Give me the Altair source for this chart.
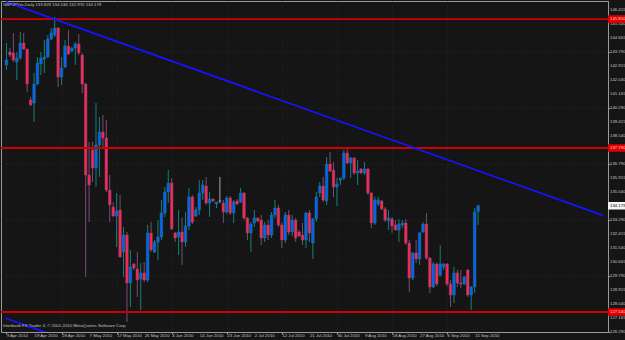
import altair as alt
import pandas as pd

# ---- data (GBPJPYm, Daily) ----
opens = [142.98, 143.79, 143.73, 143.165, 143.415, 144.35, 143.98, 140.79, 140.60, 141.79,
         143.04, 143.35, 143.48, 144.60, 144.85, 145.29, 142.23, 142.85, 144.165, 143.85,
         144.04, 144.29, 143.60, 141.79, 136.10, 137.665, 136.54, 137.98, 138.79, 138.415,
         135.165, 134.10, 133.54, 133.915, 131.29, 132.35, 129.35, 130.54, 130.23, 129.60,
         129.98, 129.54, 132.48, 131.29, 131.915, 132.23, 133.73, 135.04, 135.60, 132.48,
         132.23, 132.54, 131.915, 132.915, 134.73, 133.54, 133.915, 134.98, 135.415, 134.35,
         134.60, 134.29, 134.48, 134.35, 133.79, 134.665, 133.73, 134.48, 134.415, 134.98,
         133.415, 132.48, 133.10, 133.415, 133.29, 132.165, 132.98, 132.35, 133.60, 134.04,
         132.98, 132.04, 133.60, 132.54, 133.29, 132.54, 132.35, 132.04, 133.73, 131.85,
         133.35, 134.98, 135.415, 134.48, 136.79, 136.415, 135.35, 135.79, 135.915, 137.48,
         136.85, 137.165, 136.23, 136.48, 136.23, 136.48, 134.98, 133.10, 134.29, 134.48,
         133.98, 133.23, 133.35, 132.98, 132.665, 132.98, 133.10, 131.85, 129.665, 131.23,
         130.85, 132.54, 133.04, 130.915, 129.10, 130.54, 129.85, 130.35, 130.54, 129.29,
         128.60, 129.98, 129.35, 129.29, 130.165, 128.60, 129.10, 133.829]
highs = [144.35, 144.04, 144.98, 143.79, 145.04, 144.98, 143.98, 140.98, 142.48, 143.48,
         143.79, 144.54, 144.85, 145.29, 145.98, 145.35, 143.48, 144.54, 145.165, 144.10,
         144.415, 144.915, 143.73, 141.85, 138.165, 138.165, 140.60, 139.73, 139.85, 139.54,
         136.10, 134.415, 134.98, 134.85, 132.85, 132.54, 131.415, 130.60, 131.29, 130.60,
         130.665, 132.98, 133.165, 132.04, 133.29, 134.54, 135.35, 136.415, 135.915, 132.54,
         133.915, 133.415, 133.79, 135.29, 134.85, 134.10, 135.79, 135.79, 135.98, 135.04,
         134.665, 134.415, 135.98, 134.54, 134.79, 134.79, 134.54, 134.60, 135.29, 135.04,
         133.48, 133.165, 133.915, 133.45, 133.60, 133.165, 133.29, 133.79, 134.54, 134.23,
         133.165, 133.79, 133.915, 133.60, 133.415, 132.665, 133.10, 133.79, 133.915, 133.415,
         135.04, 135.665, 135.98, 137.23, 137.54, 136.915, 135.915, 135.915, 137.665, 137.79,
         137.23, 137.23, 137.04, 136.54, 136.915, 136.54, 135.00, 134.73, 134.73, 134.54,
         134.10, 133.915, 133.48, 133.29, 133.35, 133.29, 133.35, 132.04, 131.29, 132.04,
         132.54, 133.165, 133.73, 130.98, 130.665, 130.60, 131.73, 130.60, 130.60, 129.54,
         130.35, 130.165, 130.165, 129.79, 130.23, 129.165, 134.04, 134.244]
lows = [142.665, 143.48, 143.165, 142.04, 143.29, 143.915, 141.29, 140.415, 139.415, 141.73,
        142.35, 142.48, 143.415, 144.54, 144.73, 141.60, 141.73, 142.79, 143.60, 143.79,
        142.98, 143.60, 141.23, 129.73, 133.165, 135.665, 135.35, 135.98, 137.85, 135.04,
        133.165, 133.48, 131.60, 130.95, 129.73, 126.915, 127.85, 130.165, 128.48, 127.665,
        129.415, 129.415, 131.29, 131.23, 130.79, 132.04, 133.48, 134.35, 132.665, 131.915,
        131.10, 130.48, 131.60, 132.665, 133.04, 133.48, 133.60, 134.54, 134.23, 133.48,
        134.415, 134.04, 134.35, 133.10, 133.665, 133.60, 133.10, 134.23, 134.35, 133.29,
        132.04, 131.29, 132.85, 133.165, 131.73, 131.915, 132.04, 132.165, 133.415, 132.85,
        131.54, 131.85, 132.35, 132.29, 131.915, 132.23, 131.73, 131.54, 131.915, 130.85,
        133.165, 134.73, 134.415, 134.23, 136.29, 134.73, 134.165, 135.48, 135.79, 136.79,
        135.915, 136.10, 135.48, 136.165, 136.10, 134.85, 132.79, 132.98, 134.165, 133.915,
        133.165, 132.665, 132.48, 132.63, 131.915, 132.79, 131.73, 128.79, 129.54, 130.60,
        130.48, 132.48, 130.79, 128.73, 129.04, 129.165, 129.73, 130.165, 129.165, 127.85,
        128.10, 129.10, 129.04, 129.23, 128.48, 127.665, 128.73, 132.970]
closes = [143.29, 143.60, 143.29, 143.415, 144.35, 143.98, 141.79, 140.48, 141.79, 143.10,
          143.415, 143.48, 144.60, 144.98, 145.29, 142.23, 142.79, 144.165, 143.665, 144.04,
          144.29, 143.73, 141.79, 136.10, 135.48, 136.54, 137.98, 138.79, 138.415, 135.165,
          134.23, 133.54, 133.85, 130.98, 132.35, 129.35, 130.35, 130.29, 129.54, 129.98,
          129.54, 132.48, 131.415, 131.915, 132.23, 133.73, 135.04, 135.60, 132.73, 132.165,
          132.54, 131.915, 132.915, 134.73, 133.165, 133.915, 134.98, 135.48, 134.35, 134.60,
          134.48, 134.415, 134.48, 133.79, 134.665, 133.73, 134.415, 134.29, 134.98, 133.415,
          132.48, 133.04, 133.415, 133.23, 132.165, 132.98, 132.35, 133.60, 134.04, 132.98,
          132.04, 133.60, 132.54, 133.29, 132.165, 132.29, 132.04, 133.73, 132.48, 133.35,
          134.73, 135.415, 134.54, 136.79, 136.35, 135.35, 135.54, 135.915, 137.48, 136.85,
          137.165, 136.23, 136.35, 136.23, 136.48, 134.98, 133.10, 134.54, 134.54, 133.98,
          133.29, 133.415, 132.915, 132.665, 133.04, 133.10, 131.85, 129.665, 131.23, 130.85,
          132.48, 133.04, 130.915, 129.10, 130.54, 129.29, 130.54, 130.54, 129.29, 128.60,
          129.98, 129.35, 129.29, 129.73, 128.60, 129.10, 133.79, 134.179]

date_labels = ["9 Apr 2010", "19 Apr 2010", "28 Apr 2010", "7 May 2010", "17 May 2010",
               "26 May 2010", "4 Jun 2010", "14 Jun 2010", "23 Jun 2010", "2 Jul 2010",
               "12 Jul 2010", "21 Jul 2010", "30 Jul 2010", "9 Aug 2010", "18 Aug 2010",
               "27 Aug 2010", "6 Sep 2010", "15 Sep 2010"]
date_bars = [0, 8, 16, 24, 32, 40, 48, 56, 64, 72, 80, 88, 96, 104, 112, 120, 128, 136]
price_ticks = [126.290, 127.165, 128.040, 128.915, 129.790, 130.665, 131.540, 132.415,
               133.290, 134.165, 135.040, 135.915, 136.790, 137.665, 138.540, 139.415,
               140.290, 141.165, 142.040, 142.915, 143.790, 144.665, 145.540, 146.415]
red_levels = [145.850, 137.790, 127.540]
trend_bars = [-0.143, 173.29]
trend_prices = [146.92, 133.58]
trend2_bars = [-0.143, 20.0]
trend2_prices = [127.15, 125.60]

BG = "#151515"
TXT = "#c4c4c4"
AX = "#9a9a9a"
FONT = "Liberation Sans"
FS = 4.3

df = pd.DataFrame({"i": list(range(len(opens))), "o": opens, "h": highs, "l": lows, "c": closes})

xs = alt.Scale(domain=[-0.143, 173.29], nice=False, zero=False)
ys = alt.Scale(domain=[126.29, 146.978], nice=False, zero=False)

x_axis = alt.Axis(values=date_bars, labels=False,
                  tickColor=AX, tickSize=2, domainColor=AX, grid=True,
                  gridColor="#2c2c38", gridDash=[1, 2], gridWidth=0.7, title=None)
y_axis = alt.Axis(values=price_ticks, labels=False, orient="right",
                  tickColor=AX, tickSize=2, domainColor=AX, grid=True,
                  gridColor="#2c2c38", gridDash=[1, 2], gridWidth=0.7, title=None)

base = alt.Chart(df).transform_calculate(
    d="datum.c > datum.o ? 'up' : (datum.c < datum.o ? 'down' : 'doji')")

wick_sc = alt.Scale(domain=["up", "down", "doji"], range=["#14807a", "#7d4a78", "#a8a8a8"])
body_sc = alt.Scale(domain=["up", "down", "doji"], range=["#0d5cff", "#ff2650", "#a8a8a8"])

wicks = base.mark_rule(strokeWidth=1).encode(
    x=alt.X("i:Q", scale=xs, axis=x_axis),
    y=alt.Y("l:Q", scale=ys, axis=y_axis),
    y2="h:Q",
    stroke=alt.Stroke("d:N", scale=wick_sc, legend=None),
)
bodies = base.mark_bar(size=2.6, strokeWidth=0.5).encode(
    x=alt.X("i:Q", scale=xs),
    y=alt.Y("o:Q", scale=ys),
    y2="c:Q",
    fill=alt.Fill("d:N", scale=body_sc, legend=None),
    stroke=alt.Stroke("d:N", scale=wick_sc, legend=None),
)

red_df = pd.DataFrame({"p": red_levels})
red_lines = alt.Chart(red_df).mark_rule(color="#d00000", strokeWidth=1.8).encode(
    y=alt.Y("p:Q", scale=ys))

tr1 = alt.Chart(pd.DataFrame({"i": trend_bars, "p": trend_prices})).mark_line(
    color="#1414ff", strokeWidth=1.8, clip=True).encode(
    x=alt.X("i:Q", scale=xs), y=alt.Y("p:Q", scale=ys))
tr2 = alt.Chart(pd.DataFrame({"i": trend2_bars, "p": trend2_prices})).mark_line(
    color="#1414ff", strokeWidth=1.8, clip=True).encode(
    x=alt.X("i:Q", scale=xs), y=alt.Y("p:Q", scale=ys))

# price labels hidden behind the tags (as in the terminal) are left out
tag_prices = red_levels + [closes[-1]]
shown_ticks = [p for p in price_ticks if all(abs(p - q) > 0.2 for q in tag_prices)]

ylab = alt.Chart(pd.DataFrame({"p": shown_ticks})).transform_calculate(
    t="format(datum.p, '.3f')").mark_text(
    align="left", baseline="middle", font=FONT, fontSize=FS, color=TXT).encode(
    x=alt.value(609), y=alt.Y("p:Q", scale=ys), text="t:N")
xlab = alt.Chart(pd.DataFrame({"i": date_bars, "t": date_labels})).mark_text(
    align="left", baseline="middle", font=FONT, fontSize=FS, color=TXT, dx=0.5).encode(
    x=alt.X("i:Q", scale=xs), y=alt.value(335), text="t:N")

tag_df = pd.DataFrame({"p": tag_prices,
                       "k": ["red"] * len(red_levels) + ["cur"]})
tags = alt.Chart(tag_df).transform_calculate(
    lo="datum.p - 0.24", hi="datum.p + 0.24", t="format(datum.p, '.3f')")
tag_box = tags.mark_rect().encode(
    x=alt.value(607), x2=alt.value(640),
    y=alt.Y("lo:Q", scale=ys), y2="hi:Q",
    fill=alt.Fill("k:N", scale=alt.Scale(domain=["red", "cur"], range=["#e00000", "#f4f4f4"]), legend=None),
)
tag_txt = tags.mark_text(align="left", baseline="middle", font=FONT, fontSize=FS).encode(
    x=alt.value(609), y=alt.Y("p:Q", scale=ys), text="t:N",
    color=alt.Color("k:N", scale=alt.Scale(domain=["red", "cur"], range=["#ffd0d0", "#000000"]), legend=None),
)

title_txt = "GBPJPYm,Daily %.3f %.3f %.3f %.3f" % (opens[-1], highs[-1], lows[-1], closes[-1])
head = alt.Chart(pd.DataFrame({"t": [title_txt]})).mark_text(
    align="left", baseline="middle", font=FONT, fontSize=FS, color=TXT).encode(
    x=alt.value(2), y=alt.value(4), text="t:N")
foot = alt.Chart(pd.DataFrame({"t": ["Interbank FX Trader 4, \u00a9 2001-2010 MetaQuotes Software Corp."]})).mark_text(
    align="left", baseline="middle", font=FONT, fontSize=FS, color=TXT).encode(
    x=alt.value(2), y=alt.value(325), text="t:N")

chart = alt.layer(wicks, bodies, red_lines, tr1, tr2, ylab, xlab, tag_box, tag_txt, head, foot).resolve_scale(
    stroke="independent", fill="independent", color="independent"
).properties(
    width=607, height=331,
    autosize=alt.AutoSizeParams(type="none"),
    padding={"left": 1, "top": 1, "right": 17, "bottom": 8},
    background=BG,
).configure_view(fill=BG, stroke=AX, strokeWidth=1)

chart.save("out.html", embed_options={"renderer": "svg", "actions": False})
